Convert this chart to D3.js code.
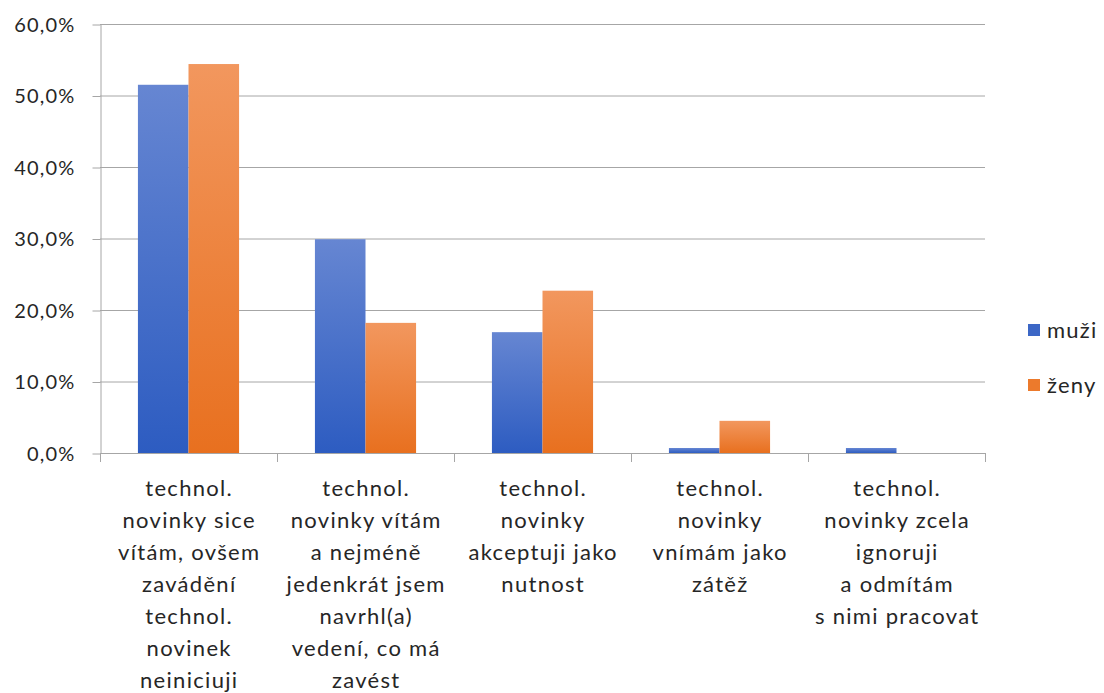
<!DOCTYPE html>
<html>
<head>
<meta charset="utf-8">
<script src="https://d3js.org/d3.v7.min.js"></script>
<style>
  html, body { margin: 0; padding: 0; background: #fff; }
  svg { display: block; font-family: Lato, "Open Sans", sans-serif; }
</style>
</head>
<body>
<svg id="chart" width="1104" height="693"></svg>
<script>
// Answer categories (each split into displayed lines)
const categories = [
  ["technol.", "novinky sice", "vítám, ovšem", "zavádění", "technol.", "novinek", "neiniciuji"],
  ["technol.", "novinky vítám", "a nejméně", "jedenkrát jsem", "navrhl(a)", "vedení, co má", "zavést"],
  ["technol.", "novinky", "akceptuji jako", "nutnost"],
  ["technol.", "novinky", "vnímám jako", "zátěž"],
  ["technol.", "novinky zcela", "ignoruji", "a odmítám", "s nimi pracovat"]
];
const seriesNames = ["muži", "ženy"];
const muzi = [51.5, 29.9, 16.9, 0.7, 0.7];
const zeny = [54.4, 18.2, 22.7, 4.5, 0.0];
const yTicks = [0, 10, 20, 30, 40, 50, 60];

const svg = d3.select("#chart");
const plotL = 100, plotR = 985, plotT = 24, plotB = 453;

const x = d3.scaleBand().domain(d3.range(categories.length)).range([plotL, plotR]).paddingInner(0).paddingOuter(0);
const xs = d3.scaleBand().domain(seriesNames).range([0, x.bandwidth()]).paddingInner(0).paddingOuter(0.75);
const y = d3.scaleLinear().domain([0, 60]).range([plotB, plotT]);

// gradients
const defs = svg.append("defs");
const grads = [
  { id: "g-muzi", c1: "#6686d2", c2: "#2d5cc1" },
  { id: "g-zeny", c1: "#f2975e", c2: "#e8701f" }
];
grads.forEach(g => {
  const lg = defs.append("linearGradient").attr("id", g.id).attr("x1", 0).attr("y1", 0).attr("x2", 0).attr("y2", 1);
  lg.append("stop").attr("offset", "0%").attr("stop-color", g.c1);
  lg.append("stop").attr("offset", "100%").attr("stop-color", g.c2);
});
const fills = { "muži": "url(#g-muzi)", "ženy": "url(#g-zeny)" };
const legendFills = { "muži": "#3c67c6", "ženy": "#ec7a2c" };

// gridlines
svg.append("g").selectAll("line").data(yTicks.filter(t => t > 0)).join("line")
  .attr("x1", plotL).attr("x2", plotR)
  .attr("y1", d => y(d) + 0.5).attr("y2", d => y(d) + 0.5)
  .attr("stroke", "#a6a6a6").attr("stroke-width", 1);

// y axis
const yAxis = svg.append("g").attr("transform", `translate(${plotL + 0.5},0)`)
  .call(d3.axisLeft(y).tickValues(yTicks).tickSize(8).tickSizeOuter(0)
    .tickFormat(d => d3.format(".1f")(d).replace(".", ",") + "%"));
yAxis.select(".domain").attr("stroke", "#a6a6a6");
yAxis.selectAll(".tick line").attr("stroke", "#a6a6a6").attr("transform", "translate(0,0.5)");
yAxis.selectAll(".tick text").attr("x", -25).attr("dy", "0.36em")
  .attr("font-size", 20).attr("letter-spacing", 1.2)
  .attr("fill", "#262626").attr("font-family", "Lato, sans-serif");

// bars
const data = categories.map((c, i) => ({ i, values: [
  { key: "muži", v: muzi[i] }, { key: "ženy", v: zeny[i] }
]}));
const groups = svg.append("g").selectAll("g").data(data).join("g")
  .attr("transform", d => `translate(${x(d.i)},0)`);
groups.selectAll("rect").data(d => d.values.filter(v => v.v > 0)).join("rect")
  .attr("x", d => xs(d.key))
  .attr("width", xs.bandwidth())
  .attr("y", d => y(d.v))
  .attr("height", d => y(0) - y(d.v))
  .attr("fill", d => fills[d.key]);

// x axis
svg.append("line").attr("x1", plotL).attr("x2", plotR).attr("y1", plotB + 0.5).attr("y2", plotB + 0.5)
  .attr("stroke", "#a6a6a6");
svg.append("g").selectAll("line").data(d3.range(categories.length + 1)).join("line")
  .attr("x1", d => (d < categories.length ? x(d) : plotR) + 0.5)
  .attr("x2", d => (d < categories.length ? x(d) : plotR) + 0.5)
  .attr("y1", plotB).attr("y2", plotB + 9)
  .attr("stroke", "#a6a6a6");

// category labels
const labels = svg.append("g").selectAll("text").data(categories).join("text")
  .attr("text-anchor", "middle")
  .attr("font-size", 22).attr("letter-spacing", 1.3).attr("fill", "#262626")
  .attr("x", (d, i) => x(i) + x.bandwidth() / 2 + 0.7);
labels.selectAll("tspan").data(d => d).join("tspan")
  .attr("x", function() { return d3.select(this.parentNode).attr("x"); })
  .attr("y", (d, j) => 496 + j * 32)
  .text(d => d);

// legend
const legend = svg.append("g").selectAll("g").data(seriesNames).join("g")
  .attr("transform", (d, i) => `translate(1028,${324 + i * 55})`);
legend.append("rect").attr("width", 12).attr("height", 12).attr("fill", d => legendFills[d]);
legend.append("text").attr("x", 19).attr("y", 6).attr("dy", "0.36em")
  .attr("font-size", 22).attr("letter-spacing", 1.2).attr("fill", "#262626").text(d => d);
</script>
</body>
</html>
